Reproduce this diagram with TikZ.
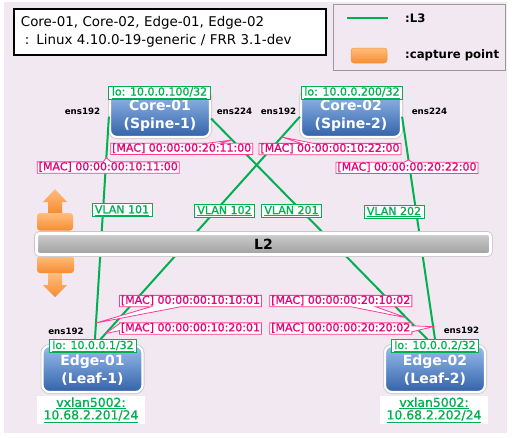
\documentclass[tikz,border=0pt]{standalone}
\usepackage{fontspec}
\setmainfont{DejaVu Sans}
\newfontfamily\medfont[RawFeature={embolden=1.2}]{DejaVu Sans}
\usetikzlibrary{shapes.callouts}
\definecolor{bgc}{RGB}{241,232,241}
\definecolor{lgreen}{RGB}{0,176,80}
\definecolor{mpink}{RGB}{255,60,150}
\definecolor{mtext}{RGB}{232,0,122}
\definecolor{boxtop}{RGB}{150,188,236}
\definecolor{boxbot}{RGB}{52,98,168}
\definecolor{orgtop}{RGB}{255,190,125}
\definecolor{orgbot}{RGB}{246,140,50}
\definecolor{bartop}{RGB}{205,205,205}
\definecolor{barbot}{RGB}{160,160,160}
\newcommand{\myfs}[2]{\fontsize{#1}{#2}\selectfont}
\begin{document}
\begin{tikzpicture}[x=1pt,y=-1pt,
  link/.style={draw=lgreen,line width=2pt},
  devbox/.style={rounded corners=7pt,top color=boxtop,bottom color=boxbot,draw=white,line width=2.2pt,
    preaction={draw=black!20,line width=4pt},minimum width=100pt,minimum height=46pt,text=white,
    font=\bfseries\myfs{14}{18},align=center,inner sep=0pt},
  lolabel/.style={draw=lgreen,fill=white,text=lgreen,line width=0.8pt,font=\medfont\myfs{11}{12},
    inner xsep=3pt,inner ysep=1pt,text height=8.5pt,text depth=2.5pt},
  maclabel/.style={rectangle callout,draw=mpink,fill=white,text=mtext,line width=0.8pt,font=\medfont\myfs{11}{12},
    inner xsep=1.5pt,inner ysep=0.5pt,text height=8pt,text depth=2.3pt},
  ens/.style={font=\bfseries\myfs{8.7}{10},inner sep=0pt},
  vxbox/.style={fill=white,text=lgreen,minimum width=108pt,minimum height=28pt,align=center,
    font=\medfont\myfs{12.4}{12.5},inner sep=0pt},
  orange/.style={top color=orgtop,bottom color=orgbot},
  l2bar/.style={rounded corners=3pt,draw=white,line width=3pt,top color=bartop,bottom color=barbot,
    preaction={draw=black!22,line width=4.6pt},minimum width=454pt,minimum height=21pt,
    font=\bfseries\myfs{14}{16},inner sep=0pt}
]
\useasboundingbox (0,0) rectangle (512,437);
\fill[white] (0,0) rectangle (512,437);
\fill[bgc] (4,2) rectangle (507,433);

% info box
\node (info) [draw=black,line width=1.8pt,fill=white,anchor=north west,text width=298pt,inner xsep=7pt,
  minimum height=46pt,align=left,font=\myfs{13.4}{18}] at (13,8)
  {Core-01, Core-02, Edge-01, Edge-02\\\hspace*{4pt}:\hspace{7pt}Linux 4.10.0-19-generic / FRR 3.1-dev};

% legend
\node (legend) [draw=black!40,line width=0.8pt,fill=bgc,anchor=north west,minimum width=172pt,
  minimum height=66pt,inner sep=0pt] at (332.5,3.5) {};
\coordinate (l3a) at (347,18);
\coordinate (l3b) at (388,18);
\draw[link] (l3a) -- (l3b);
\node (l3txt) [anchor=west,font=\bfseries\myfs{11.7}{13},inner sep=0pt] at (405,18) {:L3};
\node (capbox) [orange,rounded corners=3pt,draw=orgbot!80!orgtop,line width=0.5pt,minimum width=36pt,
  minimum height=15pt,inner sep=0pt] at (369,55.5) {};
\node (captxt) [anchor=west,font=\bfseries\myfs{11.7}{13},inner sep=0pt] at (405,55) {:capture point};

% devices
\node[devbox] (core1) at (160,114) {\rule{0pt}{13.5pt}Core-01\\(Spine-1)};
\node[devbox] (core2) at (351,114) {\rule{0pt}{13.5pt}Core-02\\(Spine-2)};
\node[devbox] (edge1) at (92.5,369) {\rule{0pt}{13.5pt}Edge-01\\(Leaf-1)};
\node[devbox] (edge2) at (435,369) {\rule{0pt}{13.5pt}Edge-02\\(Leaf-2)};

% links
\draw[link] (core1.183) -- coordinate[pos=0.18] (t1) coordinate[pos=0.904] (t5) (edge1.85);
\draw[link] (core1.355) -- coordinate[pos=0.095] (t2) coordinate[pos=0.88] (t7) (edge2.95);
\draw[link] (core2.183) -- coordinate[pos=0.089] (t3) coordinate[pos=0.95] (t6) (edge1.83);
\draw[link] (core2.357) -- coordinate[pos=0.19] (t4) coordinate[pos=0.92] (t8) (edge2.88);

% capture points
\path[orange] (48,213) -- (48,202) -- (43,202) -- (55,189) -- (67,202) -- (62,202) -- (62,213) -- cycle;
\path[orange,rounded corners=3pt] (37,213) rectangle (73,230.5);
\path[orange,rounded corners=3pt] (37,256) rectangle (74,273);
\path[orange] (48,273) -- (48,285) -- (43,285) -- (55,297) -- (67,285) -- (62,285) -- (62,273) -- cycle;

% L2 bar
\node[l2bar] (l2) at (263.5,244) {L2};

% VLAN labels
\node[lolabel] (v101) at (122,210.3) {\underline{VLAN 101}};
\node[lolabel] (v102) at (224.5,211) {\underline{VLAN 102}};
\node[lolabel] (v201) at (291.5,211) {\underline{VLAN 201}};
\node[lolabel] (v202) at (394,212) {\underline{VLAN 202}};

% MAC callouts
\node[maclabel,callout absolute pointer={(t1)},callout pointer width=8pt] (m1) at (108.3,167.5) {[MAC] 00:00:00:10:11:00};
\node[maclabel,callout absolute pointer={(t2)},callout pointer width=12pt] (m2) at (181.7,148.8) {[MAC] 00:00:00:20:11:00};
\node[maclabel,callout absolute pointer={(t3)},callout pointer width=12pt] (m3) at (330,149) {[MAC] 00:00:00:10:22:00};
\node[maclabel,callout absolute pointer={(t4)},callout pointer width=8pt] (m4) at (407,167.8) {[MAC] 00:00:00:20:22:00};
\node[maclabel,callout absolute pointer={(t5)},callout pointer width=30pt] (m5) at (190.5,301) {[MAC] 00:00:00:10:10:01};
\node[maclabel,callout absolute pointer={(t6)},callout pointer width=7pt] (m6) at (190.5,328.5) {[MAC] 00:00:00:10:20:01};
\node[maclabel,callout absolute pointer={(t7)},callout pointer width=25pt] (m7) at (340.8,301) {[MAC] 00:00:00:20:10:02};
\node[maclabel,callout absolute pointer={(t8)},callout pointer width=6pt] (m8) at (340.8,328.5) {[MAC] 00:00:00:20:20:02};

% lo labels
\node[lolabel] (lo1) at (159.5,92.5) {\underline{lo: 10.0.0.100/32}};
\node[lolabel] (lo2) at (352,92.5) {\underline{lo: 10.0.0.200/32}};
\node[lolabel] (lo3) at (93,346) {\underline{lo: 10.0.0.1/32}};
\node[lolabel] (lo4) at (435,346) {\underline{lo: 10.0.0.2/32}};

% vxlan labels
\node[vxbox] (vx1) at (91,410) {\underline{vxlan5002:}\\\underline{10.68.2.201/24}};
\node[vxbox] (vx2) at (434,410) {\underline{vxlan5002:}\\\underline{10.68.2.202/24}};

% interface names
\node[ens] (c1e192) at (82.5,111) {ens192};
\node[ens] (c1e224) at (234.5,111) {ens224};
\node[ens] (c2e192) at (278.5,111) {ens192};
\node[ens] (c2e224) at (429.5,111) {ens224};
\node[ens] (e1e192) at (66,331) {ens192};
\node[ens] (e2e192) at (461.5,330) {ens192};
\end{tikzpicture}
\end{document}
